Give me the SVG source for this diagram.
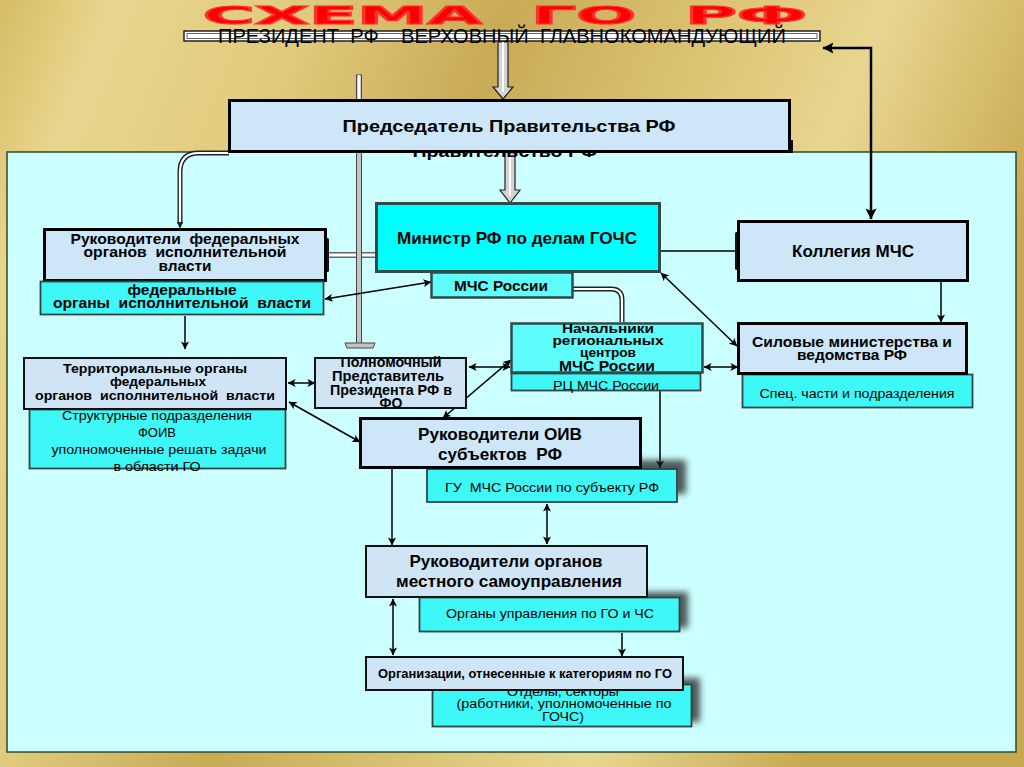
<svg xmlns="http://www.w3.org/2000/svg" width="1024" height="767" viewBox="0 0 1024 767">
<defs>
<linearGradient id="gold" x1="0" y1="0" x2="1" y2="0.3">
<stop offset="0" stop-color="#d6bb63"/>
<stop offset="0.1" stop-color="#e8d68e"/>
<stop offset="0.28" stop-color="#e0ca7c"/>
<stop offset="0.46" stop-color="#c9aa55"/>
<stop offset="0.62" stop-color="#d9c06e"/>
<stop offset="0.8" stop-color="#e8d690"/>
<stop offset="1" stop-color="#c8a850"/>
</linearGradient>
<filter id="sh" x="-20%" y="-50%" width="140%" height="200%"><feGaussianBlur stdDeviation="3"/></filter>
<marker id="ah" viewBox="0 0 10 10" refX="9.5" refY="5" markerWidth="9" markerHeight="8" markerUnits="userSpaceOnUse" orient="auto-start-reverse"><path d="M0,0 L10,5 L0,10 L2.5,5 Z" fill="#000"/></marker>
<marker id="ahb" viewBox="0 0 10 10" refX="9.5" refY="5" markerWidth="13" markerHeight="11" markerUnits="userSpaceOnUse" orient="auto-start-reverse"><path d="M0,0 L10,5 L0,10 L2,5 Z" fill="#000"/></marker>
<style>
.lb{fill:#cde7f8;stroke:#000;stroke-width:3}
.lb2{fill:#cfe4f5;stroke:#111;stroke-width:2}
.cy{fill:#5ffcfc;stroke:#2f4a4a;stroke-width:2.5}
.cy2{fill:#3ef8f8;stroke:#344;stroke-width:1.8}
.sh{fill:#222;opacity:0.75;filter:url(#sh)}
.b{font-family:"Liberation Sans",Arial,sans-serif;font-weight:bold;text-anchor:middle;fill:#000}
.n{font-family:"Liberation Sans",Arial,sans-serif;text-anchor:middle;fill:#000}
.ln{fill:none;stroke:#000;stroke-width:1.5}
.lnm{fill:none;stroke:#000;stroke-width:1.5;marker-end:url(#ah)}
.lnd{fill:none;stroke:#000;stroke-width:1.5;marker-start:url(#ah);marker-end:url(#ah)}
.po{fill:none;stroke:#222;stroke-width:5}
.pi{fill:none;stroke:#fff;stroke-width:2.2}
</style>
</defs>
<rect x="0" y="0" width="1024" height="767" fill="url(#gold)"/>
<rect x="7" y="152" width="1009" height="600" fill="#ccffff" stroke="#2a4a2a" stroke-width="1.5"/>

<g id="title">
<text x="505" y="24" font-family="DejaVu Sans,sans-serif" font-weight="900" font-size="25" fill="#ff0000" stroke="#ff3030" stroke-width="1.2" text-anchor="middle" textLength="604" lengthAdjust="spacingAndGlyphs" xml:space="preserve">СХЕМА  ГО  РФ</text>
</g>

<g id="president">
<rect x="184" y="31" width="636" height="10" fill="#fff" stroke="#222" stroke-width="1.5"/>
<rect x="187" y="33.5" width="630" height="5" fill="none" stroke="#666" stroke-width="1"/>
<text x="502" y="43" font-family="Liberation Sans,Arial,sans-serif" font-size="20" fill="#000" text-anchor="middle" textLength="568" lengthAdjust="spacingAndGlyphs" xml:space="preserve">ПРЕЗИДЕНТ  РФ    ВЕРХОВНЫЙ  ГЛАВНОКОМАНДУЮЩИЙ</text>
</g>

<g id="connectors">
<path d="M498,42 L498,87 L493,87 L503,99 L513,87 L508,87 L508,42 Z" fill="#d4d4d4" stroke="#222" stroke-width="1.2"/>
<line x1="503" y1="42" x2="503" y2="92" stroke="#fff" stroke-width="2"/>
<path d="M505,152 L505,190 L500,190 L510,203 L520,190 L515,190 L515,152 Z" fill="#d4d4d4" stroke="#222" stroke-width="1.2"/>
<line x1="510" y1="152" x2="510" y2="196" stroke="#fff" stroke-width="2"/>
<path class="po" d="M229,153 L199,153 Q180,153 180,172 L180,224"/>
<path class="pi" d="M229,153 L199,153 Q180,153 180,172 L180,226"/>
<path d="M177,222 L180,229 L183,222 Z" fill="#222"/>
<path d="M326,255 L377,255" fill="none" stroke="#666" stroke-width="6"/>
<path d="M326,255 L377,255" fill="none" stroke="#fff" stroke-width="3"/>
<path class="po" d="M573,289 L611,289 Q622,289 622,300 L622,322"/>
<path class="pi" d="M573,289 L611,289 Q622,289 622,300 L622,322"/>
<rect x="356.5" y="75" width="5" height="270" fill="#c4c4c4" stroke="#444" stroke-width="1"/>
<rect x="357.8" y="75" width="2.4" height="30" fill="#fff"/>
<path d="M345,343 L375,343 L373,348 L347,348 Z" fill="#c4c4c4" stroke="#444" stroke-width="1"/>
<line class="ln" x1="660" y1="251" x2="738" y2="251" stroke="#333"/>
<polyline points="823,48 871,48 871,219" fill="none" stroke="#000" stroke-width="2.5" marker-start="url(#ahb)" marker-end="url(#ahb)"/>
<line class="lnm" x1="941" y1="281" x2="941" y2="322"/>
<line class="lnd" x1="431" y1="282" x2="325" y2="299"/>
<line class="lnd" x1="661" y1="273" x2="737" y2="346"/>
<line class="lnd" x1="704" y1="367" x2="738" y2="367"/>
<line class="lnm" x1="185" y1="316" x2="185" y2="349"/>
<line class="lnd" x1="288" y1="383" x2="315" y2="383"/>
<line class="lnd" x1="469" y1="367" x2="510" y2="367"/>
<line class="lnd" x1="443" y1="418" x2="511" y2="360"/>
<line class="lnd" x1="289" y1="402" x2="360" y2="442"/>
<line class="lnm" x1="660" y1="391" x2="660" y2="468"/>
<line class="lnm" x1="392" y1="469" x2="392" y2="545"/>
<line class="lnd" x1="547" y1="504" x2="547" y2="544"/>
<line class="lnd" x1="393" y1="599" x2="393" y2="655"/>
<line class="lnm" x1="622" y1="633" x2="622" y2="656"/>
</g>

<g id="predsedatel">
<text class="b" x="505" y="157" font-size="17" textLength="185" lengthAdjust="spacingAndGlyphs">Правительство РФ</text>
<rect x="787" y="140" width="6" height="13" fill="#111"/>
<rect class="lb" x="229.5" y="100.5" width="560" height="51"/>
<text class="b" x="509" y="132" font-size="17" textLength="333" lengthAdjust="spacingAndGlyphs">Председатель Правительства РФ</text>
</g>

<g id="ruk-fed">
<rect x="325" y="238" width="4" height="34" rx="1.5" fill="#111"/>
<rect class="lb" x="44.5" y="229.5" width="281" height="51"/>
<text class="b" x="185" y="244" font-size="14.5" textLength="229" lengthAdjust="spacingAndGlyphs" xml:space="preserve">Руководители  федеральных</text>
<text class="b" x="185" y="257" font-size="14.5" textLength="203" lengthAdjust="spacingAndGlyphs" xml:space="preserve">органов  исполнительной</text>
<text class="b" x="185" y="271" font-size="14.5" textLength="53" lengthAdjust="spacingAndGlyphs">власти</text>
</g>

<g id="fed-organy">
<rect class="cy2" x="40.5" y="281.5" width="283" height="33"/>
<text class="b" x="182" y="295" font-size="14" textLength="109" lengthAdjust="spacingAndGlyphs">федеральные</text>
<text class="b" x="182" y="308" font-size="14" textLength="258" lengthAdjust="spacingAndGlyphs" xml:space="preserve">органы  исполнительной  власти</text>
</g>

<g id="ministr">
<rect x="376.5" y="203.5" width="283" height="68" fill="#00ffff" stroke="#2f4a4a" stroke-width="3"/>
<text class="b" x="517" y="244" font-size="16.5" textLength="240" lengthAdjust="spacingAndGlyphs">Министр РФ по делам ГОЧС</text>
</g>

<g id="mchs">
<rect class="cy" x="431.5" y="272.5" width="141" height="25"/>
<text class="b" x="501" y="291" font-size="14.5" textLength="94" lengthAdjust="spacingAndGlyphs">МЧС России</text>
</g>

<g id="kollegia">
<rect x="735" y="232" width="4" height="38" rx="1.5" fill="#111"/>
<rect class="lb" x="738.5" y="221.5" width="229" height="59"/>
<text class="b" x="853" y="257" font-size="16" textLength="122" lengthAdjust="spacingAndGlyphs">Коллегия МЧС</text>
</g>

<g id="silovye">
<rect class="cy2" x="742.5" y="374.5" width="230" height="33"/>
<text class="n" x="857" y="398" font-size="13" textLength="195" lengthAdjust="spacingAndGlyphs">Спец. части и подразделения</text>
<rect class="lb" x="738.5" y="323.5" width="228" height="50"/>
<text class="b" x="852" y="347" font-size="14.5" textLength="200" lengthAdjust="spacingAndGlyphs">Силовые министерства и</text>
<text class="b" x="852" y="360" font-size="14.5" textLength="110" lengthAdjust="spacingAndGlyphs">ведомства РФ</text>
</g>

<g id="nachalniki">
<rect class="cy2" x="511.5" y="373.5" width="189" height="17"/>
<text class="n" x="606" y="389.5" font-size="13" textLength="106" lengthAdjust="spacingAndGlyphs">РЦ МЧС России</text>
<rect class="cy" x="511.5" y="323.5" width="191" height="49" stroke-width="3"/>
<text class="b" x="608" y="333" font-size="13" textLength="92" lengthAdjust="spacingAndGlyphs">Начальники</text>
<text class="b" x="608" y="345" font-size="13" textLength="111" lengthAdjust="spacingAndGlyphs">региональных</text>
<text class="b" x="608" y="357" font-size="13.5" textLength="56" lengthAdjust="spacingAndGlyphs">центров</text>
<text class="b" x="607" y="371" font-size="15" textLength="96" lengthAdjust="spacingAndGlyphs">МЧС России</text>
</g>

<g id="territ">
<rect class="cy2" x="29.5" y="409.5" width="256" height="59"/>
<text class="n" x="157" y="420" font-size="13" textLength="190" lengthAdjust="spacingAndGlyphs">Структурные подразделения</text>
<text class="n" x="157" y="437" font-size="13">ФОИВ</text>
<text class="n" x="159" y="454" font-size="13" textLength="215" lengthAdjust="spacingAndGlyphs">уполномоченные решать задачи</text>
<text class="n" x="157" y="471" font-size="13" textLength="87" lengthAdjust="spacingAndGlyphs">в области ГО</text>
<rect class="lb2" x="24" y="358" width="262" height="51"/>
<text class="b" x="155" y="373" font-size="13.5" textLength="184" lengthAdjust="spacingAndGlyphs">Территориальные органы</text>
<text class="b" x="158" y="386" font-size="13.5" textLength="96" lengthAdjust="spacingAndGlyphs">федеральных</text>
<text class="b" x="155" y="400" font-size="13.5" textLength="240" lengthAdjust="spacingAndGlyphs" xml:space="preserve">органов  исполнительной  власти</text>
</g>

<g id="polnomochny">
<rect class="lb2" x="315" y="358" width="151" height="50"/>
<text class="b" x="391" y="367" font-size="14" textLength="101" lengthAdjust="spacingAndGlyphs">Полномочный</text>
<text class="b" x="388" y="381" font-size="14" textLength="112" lengthAdjust="spacingAndGlyphs">Представитель</text>
<text class="b" x="391" y="395" font-size="14" textLength="122" lengthAdjust="spacingAndGlyphs">Президента РФ в</text>
<text class="b" x="391" y="408" font-size="14">ФО</text>
</g>

<g id="ruk-oiv">
<rect class="sh" x="440" y="460" width="246" height="34"/>
<rect class="cy2" x="427" y="469" width="250" height="33"/>
<text class="n" x="552" y="492" font-size="13.5" textLength="214" lengthAdjust="spacingAndGlyphs" xml:space="preserve">ГУ  МЧС России по субъекту РФ</text>
<rect class="lb" x="360.5" y="418.5" width="280" height="49"/>
<text class="b" x="500" y="440" font-size="17" textLength="164" lengthAdjust="spacingAndGlyphs">Руководители ОИВ</text>
<text class="b" x="500" y="460" font-size="17" textLength="124" lengthAdjust="spacingAndGlyphs" xml:space="preserve">субъектов  РФ</text>
</g>

<g id="ruk-mestn">
<rect class="sh" x="426" y="592" width="262" height="36"/>
<rect class="cy2" x="419.5" y="597.5" width="260" height="34"/>
<text class="n" x="550" y="618" font-size="13.5" textLength="208" lengthAdjust="spacingAndGlyphs">Органы управления по ГО и ЧС</text>
<rect class="lb2" x="366" y="546" width="281" height="51"/>
<text class="b" x="506" y="567" font-size="17" textLength="193" lengthAdjust="spacingAndGlyphs">Руководители органов</text>
<text class="b" x="509" y="587" font-size="17" textLength="226" lengthAdjust="spacingAndGlyphs">местного самоуправления</text>
</g>

<g id="organizacii">
<rect class="sh" x="440" y="678" width="260" height="44"/>
<rect class="cy2" x="432.5" y="684.5" width="259" height="42"/>
<text class="n" x="563" y="696" font-size="13" textLength="112" lengthAdjust="spacingAndGlyphs">Отделы, секторы</text>
<text class="n" x="564" y="708" font-size="13" textLength="215" lengthAdjust="spacingAndGlyphs">(работники, уполномоченные по</text>
<text class="n" x="563" y="721" font-size="13" textLength="42" lengthAdjust="spacingAndGlyphs">ГОЧС)</text>
<rect class="lb2" x="366" y="657" width="317" height="33"/>
<text class="b" x="525" y="678" font-size="13" textLength="294" lengthAdjust="spacingAndGlyphs">Организации, отнесенные к категориям по ГО</text>
</g>
</svg>
